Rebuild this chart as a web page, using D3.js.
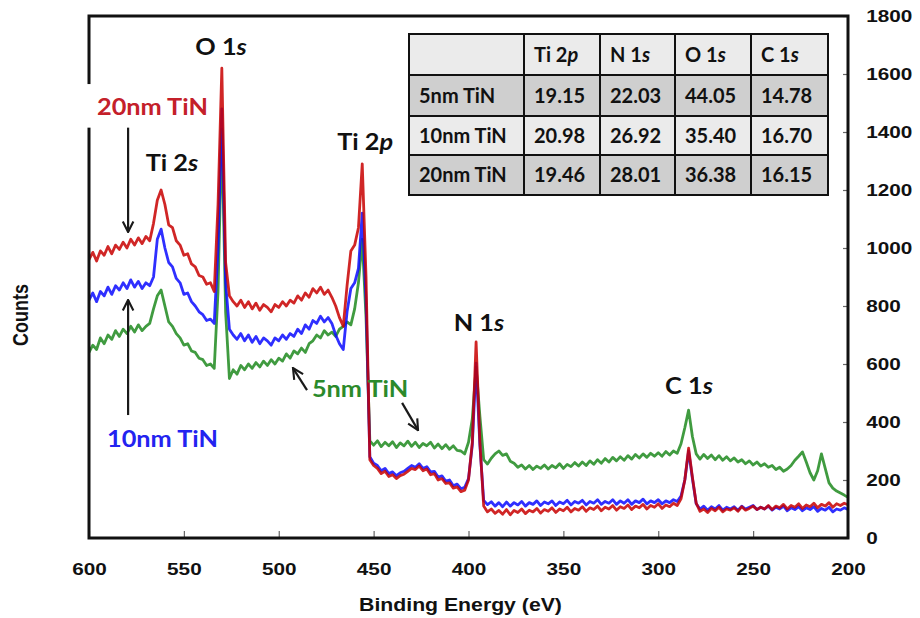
<!DOCTYPE html>
<html>
<head>
<meta charset="utf-8">
<script src="https://cdn.jsdelivr.net/npm/d3@7"></script>
<style>
body { margin: 0; background: #fff; }
svg { display: block; }
.axis text { font-family: "Liberation Sans", Arial, sans-serif; font-weight: bold; font-size: 17px; fill: #111; }
.axis line { stroke: #666; stroke-width: 1.2; }
.title { font-family: "Liberation Sans", Arial, sans-serif; font-weight: bold; font-size: 18px; fill: #111; }
.lbl { font-family: Lato, "Open Sans", sans-serif; font-weight: bold; font-size: 23px; }
.cell { font-family: Lato, "Open Sans", sans-serif; font-weight: bold; font-size: 20px; fill: #111; }
</style>
</head>
<body>
<svg id="chart" width="920" height="618"></svg>
<script>
// spectra sampled every 2 eV from 600 down to 200 eV
const energy = d3.range(600, 199, -2)

const counts20nm = [
  960, 985, 955, 990, 975, 1005, 980, 1010, 995, 1020,
  1000, 1030, 1010, 1035, 1015, 1040, 1025, 1085, 1165, 1200,
  1150, 1080, 1070, 1025, 1010, 975, 980, 945, 935, 905,
  900, 875, 880, 850, 1150, 1620, 950, 835, 815, 800,
  820, 795, 815, 790, 810, 785, 805, 795, 780, 805,
  795, 815, 800, 820, 810, 835, 820, 845, 830, 860,
  845, 865, 840, 855, 830, 800, 760, 730, 870, 990,
  1010, 1070, 1290, 900, 270, 250, 240, 222, 230, 212,
  218, 205, 215, 220, 230, 240, 236, 248, 232, 238,
  218, 222, 200, 205, 188, 190, 172, 176, 160, 165,
  200, 330, 676, 330, 110, 90, 100, 85, 95, 82,
  98, 80, 95, 88, 100, 84, 96, 90, 102, 86,
  98, 92, 104, 88, 100, 94, 106, 90, 102, 96,
  108, 92, 104, 98, 110, 94, 106, 100, 112, 96,
  108, 102, 114, 98, 110, 104, 116, 100, 112, 106,
  118, 102, 114, 108, 120, 112, 135, 200, 310, 210,
  120, 92, 100, 88, 102, 94, 106, 90, 100, 96,
  104, 92, 108, 96, 102, 110, 98, 106, 100, 112,
  98, 110, 104, 116, 100, 112, 106, 118, 102, 114,
  108, 120, 104, 116, 110, 122, 106, 118, 112, 120,
  115
]

const counts10nm = [
  820, 845, 815, 850, 835, 865, 840, 870, 855, 880,
  860, 890, 865, 885, 860, 880, 870, 900, 1030, 1065,
  1000, 950, 935, 895, 880, 840, 845, 815, 800, 780,
  770, 750, 755, 740, 1000, 1480, 880, 720, 700, 685,
  705, 680, 700, 675, 695, 670, 690, 680, 665, 690,
  680, 700, 685, 705, 695, 720, 705, 735, 720, 750,
  740, 765, 745, 760, 740, 700, 670, 650, 780, 860,
  880, 930, 1120, 820, 280, 258, 250, 232, 240, 222,
  228, 215, 225, 230, 240, 250, 244, 256, 240, 246,
  228, 230, 210, 214, 196, 200, 180, 186, 170, 175,
  205, 320, 603, 320, 130, 115, 125, 110, 122, 108,
  124, 110, 122, 114, 126, 110, 122, 116, 128, 112,
  124, 118, 128, 112, 124, 118, 130, 114, 126, 120,
  130, 114, 126, 120, 132, 116, 126, 120, 132, 116,
  128, 120, 132, 116, 128, 122, 134, 118, 128, 122,
  132, 118, 128, 122, 132, 126, 145, 200, 300, 205,
  118, 100, 110, 96, 108, 100, 112, 96, 106, 100,
  108, 96, 110, 100, 106, 112, 98, 106, 100, 110,
  96, 106, 100, 110, 94, 104, 98, 108, 94, 104,
  98, 108, 92, 102, 96, 106, 90, 100, 96, 104,
  98
]

const counts5nm = [
  640, 665, 650, 690, 670, 700, 685, 715, 695, 720,
  705, 730, 710, 735, 715, 730, 740, 790, 835, 855,
  800, 745, 730, 705, 690, 665, 670, 645, 640, 620,
  615, 595, 600, 585, 850, 1410, 780, 550, 580, 565,
  595, 580, 600, 585, 605, 590, 610, 595, 615, 600,
  620, 610, 635, 620, 645, 635, 655, 640, 670, 680,
  700, 690, 715, 700, 710, 695, 720, 730, 745, 735,
  790, 880, 1030, 760, 335, 320, 335, 315, 330, 318,
  332, 312, 328, 318, 334, 316, 330, 312, 326, 318,
  330, 310, 324, 308, 322, 306, 318, 302, 300, 290,
  330, 410, 590, 420, 270, 255, 275, 290, 300, 285,
  290, 265, 258, 244, 252, 238, 250, 236, 248, 240,
  252, 238, 250, 242, 256, 240, 254, 246, 260, 248,
  262, 250, 266, 254, 270, 258, 274, 262, 278, 266,
  280, 268, 284, 272, 288, 276, 290, 278, 292, 282,
  294, 282, 298, 286, 300, 292, 325, 380, 441, 350,
  290, 272, 288, 274, 286, 270, 284, 268, 280, 266,
  276, 262, 270, 256, 266, 252, 262, 248, 256, 244,
  250, 236, 244, 230, 238, 250, 268, 282, 297, 262,
  225, 200, 232, 290, 240, 190, 172, 162, 155, 148,
  140
]

const xTicks = [600, 550, 500, 450, 400, 350, 300, 250, 200]
const yTicks = [0, 200, 400, 600, 800, 1000, 1200, 1400, 1600, 1800]

// table of atomic percentages
const tableHeads = [["Ti 2", "p"], ["N 1", "s"], ["O 1", "s"], ["C 1", "s"]]
const tableRows = ["5nm TiN", "10nm TiN", "20nm TiN"]
const tableValues = [
  ["19.15", "22.03", "44.05", "14.78"],
  ["20.98", "26.92", "35.40", "16.70"],
  ["19.46", "28.01", "36.38", "16.15"]
]

// annotations placed in data units (eV, counts)
const peakNames = [["O 1", "s"], ["Ti 2", "s"], ["Ti 2", "p"], ["N 1", "s"], ["C 1", "s"]]
const peakEv = [530.4, 556.3, 454.5, 394.5, 283.8]
const peakCounts = [1666, 1266, 1338, 714, 497]

const seriesNames = ["20nm TiN", "10nm TiN", "5nm TiN"]
const seriesLabelEv = [595.8, 590.5, 482.5]
const seriesLabelCounts = [1459, 314, 486]
const arrowFrom = [[579.4, 1424], [579.4, 424], [485.1, 510], [435.0, 466]]
const arrowTo = [[579.4, 1055], [579.4, 821], [492.5, 586], [426.6, 372]]

const lineColors = ["#c80000", "#0a0aff", "#1f8a1f"]
const textColors = ["#c4202a", "#2323f0", "#2b8a2b"]

const svg = d3.select("#chart")
const plotLeft = 89, plotRight = 848, plotTop = 16, plotBottom = 538
const sx = 1.22 // the source picture is stretched sideways

const x = d3.scaleLinear().domain([600, 200]).range([plotLeft, plotRight])
const y = d3.scaleLinear().domain([0, 1800]).range([plotBottom, plotTop])

svg.append("clipPath").attr("id", "plotclip")
  .append("rect").attr("x", plotLeft).attr("y", plotTop)
  .attr("width", plotRight - plotLeft).attr("height", plotBottom - plotTop)

// axes: ticks point inwards, labels outside
const xAxis = svg.append("g").attr("class", "axis")
  .attr("transform", "translate(0," + plotBottom + ")")
  .call(d3.axisBottom(x).tickValues(xTicks).tickFormat(d3.format("d")).tickSize(-7).tickPadding(25))
xAxis.select(".domain").remove()
xAxis.selectAll("text").attr("transform", "scale(" + sx + ",1)")

const yAxis = svg.append("g").attr("class", "axis")
  .attr("transform", "translate(" + plotRight + ",0)")
  .call(d3.axisRight(y).tickValues(yTicks).tickFormat(d3.format("d")).tickSize(-5).tickPadding(15))
yAxis.select(".domain").remove()
yAxis.selectAll("text").attr("transform", "scale(" + sx + ",1)")

// spectra
const line = d3.line()
  .x((d, i) => x(energy[i]))
  .y(d => y(d))

const plot = svg.append("g").attr("clip-path", "url(#plotclip)")
const series = [counts5nm, counts10nm, counts20nm]
const seriesColor = [lineColors[2], lineColors[1], lineColors[0]]
series.forEach(function(s, k) {
  plot.append("path")
    .attr("d", line(s))
    .attr("fill", "none")
    .attr("stroke", seriesColor[k])
    .attr("stroke-width", 2.8)
    .attr("stroke-opacity", 0.85)
    .attr("stroke-linejoin", "round")
})

// frame
svg.append("rect")
  .attr("x", plotLeft).attr("y", plotTop)
  .attr("width", plotRight - plotLeft).attr("height", plotBottom - plotTop)
  .attr("fill", "none").attr("stroke", "#111").attr("stroke-width", 3)

// axis titles
svg.append("text").attr("class", "title")
  .attr("text-anchor", "middle")
  .attr("transform", "translate(" + ((plotLeft + plotRight) / 2 - 8) + ",611) scale(1.18,1)")
  .text("Binding Energy (eV)")
svg.append("text").attr("class", "title")
  .attr("text-anchor", "middle")
  .attr("transform", "translate(28,315) rotate(-90) scale(1,1.18)")
  .text("Counts")

// peak labels
peakNames.forEach(function(p, i) {
  const t = svg.append("text").attr("class", "lbl")
    .attr("fill", "#111")
    .attr("text-anchor", "middle")
    .attr("transform", "translate(" + x(peakEv[i]) + "," + y(peakCounts[i]) + ") scale(1.1,1)")
  t.append("tspan").text(p[0])
  t.append("tspan").attr("font-style", "italic").text(p[1])
})

// arrows
svg.append("defs").append("marker")
  .attr("id", "head").attr("viewBox", "0 0 10 10")
  .attr("refX", 9).attr("refY", 5)
  .attr("markerWidth", 6).attr("markerHeight", 6)
  .attr("markerUnits", "strokeWidth")
  .attr("orient", "auto")
  .append("path").attr("d", "M1,1 L9,5 L1,9")
  .attr("fill", "none").attr("stroke", "#1a1a1a").attr("stroke-width", 1.6)

arrowFrom.forEach(function(a, i) {
  svg.append("line")
    .attr("x1", x(a[0])).attr("y1", y(a[1]))
    .attr("x2", x(arrowTo[i][0])).attr("y2", y(arrowTo[i][1]))
    .attr("stroke", "#1a1a1a").attr("stroke-width", 2.2)
    .attr("marker-end", "url(#head)")
})

// series labels (the top one sits on a white box over the frame)
seriesNames.forEach(function(n, i) {
  const g = svg.append("g")
    .attr("transform", "translate(" + x(seriesLabelEv[i]) + "," + y(seriesLabelCounts[i]) + ") scale(1.1,1)")
  const t = g.append("text").attr("class", "lbl")
    .attr("fill", textColors[i]).text(n)
  if (i === 0) {
    const b = t.node().getBBox()
    g.insert("rect", "text")
      .attr("x", b.x - 11).attr("y", b.y - 8)
      .attr("width", b.width + 15).attr("height", b.height + 16)
      .attr("fill", "#fff")
  }
})

// table
const tx = 409, ty = 34
const colW = [115, 76, 75, 76, 77]
const rowH = [41, 41, 39, 40]
const colX = colW.map((w, i) => tx + d3.sum(colW.slice(0, i)))
const rowY = rowH.map((h, i) => ty + d3.sum(rowH.slice(0, i)))
const rowFill = ["#ebebeb", "#cfcfcf", "#ebebeb", "#cfcfcf"]
const table = svg.append("g")

rowH.forEach(function(h, r) {
  colW.forEach(function(w, c) {
    table.append("rect")
      .attr("x", colX[c]).attr("y", rowY[r])
      .attr("width", w).attr("height", h)
      .attr("fill", rowFill[r]).attr("stroke", "#111").attr("stroke-width", 2)
    let cellText = null
    if (r === 0 && c > 0) cellText = tableHeads[c - 1]
    else if (r > 0 && c === 0) cellText = [tableRows[r - 1], ""]
    else if (r > 0) cellText = [tableValues[r - 1][c - 1], ""]
    if (cellText) {
      const t = table.append("text").attr("class", "cell")
        .attr("x", colX[c] + 10).attr("y", rowY[r] + h / 2 + 7)
      t.append("tspan").text(cellText[0])
      if (cellText[1]) t.append("tspan").attr("font-style", "italic").text(cellText[1])
    }
  })
})
</script>
</body>
</html>
